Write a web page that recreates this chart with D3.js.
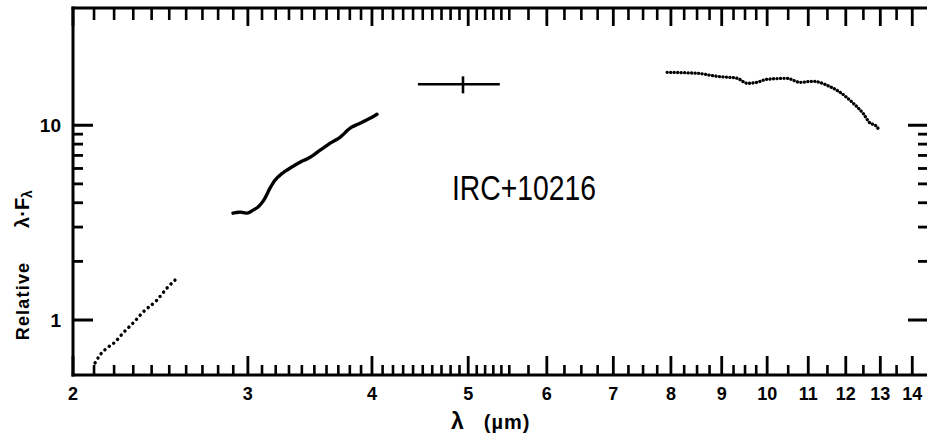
<!DOCTYPE html>
<html>
<head>
<meta charset="utf-8">
<script src="https://cdn.jsdelivr.net/npm/d3@7"></script>
<style>
  html, body { margin: 0; padding: 0; background: #fff; }
  svg { display: block; }
  text { font-family: "Liberation Sans", Arial, sans-serif; fill: #000; }
</style>
</head>
<body>
<svg id="chart" width="927" height="437"></svg>
<script>
// ---- data ----
const seg1X = [2.105, 2.129, 2.164, 2.205, 2.246, 2.299, 2.353, 2.430, 2.487, 2.534];
const seg1Y = [0.602, 0.661, 0.718, 0.771, 0.858, 0.965, 1.099, 1.266, 1.459, 1.604];

const seg2X = [2.898, 2.946, 2.994, 3.036, 3.085, 3.121, 3.158, 3.195, 3.232, 3.307, 3.386, 3.466, 3.547, 3.630, 3.715, 3.802, 3.891, 3.982, 4.047];
const seg2Y = [3.537, 3.580, 3.537, 3.665, 3.888, 4.223, 4.753, 5.223, 5.541, 6.017, 6.460, 6.855, 7.443, 8.084, 8.679, 9.652, 10.24, 10.86, 11.39];

const seg4X = [7.93, 8.50, 8.90, 9.33, 9.55, 9.77, 10.0, 10.47, 10.79, 11.13, 11.49, 11.84, 12.21, 12.49, 12.70, 12.85, 12.97];
const seg4Y = [18.70, 18.48, 17.83, 17.42, 16.42, 16.61, 17.22, 17.42, 16.61, 16.81, 16.04, 14.77, 12.97, 11.52, 10.24, 10.0, 9.43];

// photometric point with error bars
const photX = [4.94];
const photY = [16.23];
const photXLo = [4.45];
const photXHi = [5.38];
const photYLo = [14.59];
const photYHi = [17.83];

const xMajor = [2, 3, 4, 5, 6, 7, 8, 9, 10, 11, 12, 13, 14];
const xMinor = [2.1, 2.2, 2.3, 2.4, 2.5, 2.6, 2.7, 2.8, 2.9,
                3.1, 3.2, 3.3, 3.4, 3.5, 3.6, 3.7, 3.8, 3.9,
                4.1, 4.2, 4.3, 4.4, 4.5, 4.6, 4.7, 4.8, 4.9,
                5.1, 5.2, 5.3, 5.4, 5.5, 5.75,
                6.25, 6.5, 6.75, 7.25, 7.5, 7.75, 8.25, 8.5, 8.75,
                9.25, 9.5, 9.75, 10.5, 11.5, 12.5, 13.5];
const yMajor = [1, 10];
const yMinor = [2, 3, 4, 5, 6, 7, 8, 9];

const label = "IRC+10216";

// ---- layout ----
const svg = d3.select("#chart");
const L = 73, R = 928, T = 8, B = 375;

const x = d3.scaleLog().domain([2, 14.52]).range([L, R]);
const y = d3.scaleLog().domain([0.522, 40]).range([B, T]);

// ---- frame ----
svg.append("rect").attr("x", L - 1.5).attr("y", T - 1.5).attr("width", R - L + 3).attr("height", 3).attr("fill", "#000");
svg.append("rect").attr("x", L - 1.5).attr("y", B - 1.5).attr("width", R - L + 3).attr("height", 3).attr("fill", "#000");
svg.append("rect").attr("x", L - 1.5).attr("y", T - 1.5).attr("width", 3).attr("height", B - T + 3).attr("fill", "#000");

// ---- ticks as filled rects placed by the scales ----
function xTicks(vals, y0, len, w) {
  svg.append("g").selectAll("rect").data(vals).join("rect")
    .attr("x", d => x(d) - w / 2).attr("width", w)
    .attr("y", len < 0 ? y0 + len : y0).attr("height", Math.abs(len))
    .attr("fill", "#000");
}
function yTicks(vals, x0, len, w) {
  svg.append("g").selectAll("rect").data(vals).join("rect")
    .attr("y", d => y(d) - w / 2).attr("height", w)
    .attr("x", len < 0 ? x0 + len : x0).attr("width", Math.abs(len))
    .attr("fill", "#000");
}
xTicks(xMinor, B, -10, 2.6);
xTicks(xMajor, B, -19, 2.8);
xTicks(xMinor, T, 12, 2.6);
xTicks(xMajor, T, 18, 2.8);
yTicks(yMinor, L, 10, 2.8);
yTicks(yMajor, L, 20, 3);
yTicks(yMinor, R, -10, 2.8);
yTicks(yMajor, R, -20, 3);

// tick labels
svg.append("g").selectAll("text").data(xMajor).join("text")
  .attr("x", d => x(d)).attr("y", 400)
  .attr("text-anchor", "middle").attr("font-size", 18).attr("font-weight", "bold")
  .text(d3.format("d"));
svg.append("g").selectAll("text").data(yMajor).join("text")
  .attr("x", 61).attr("y", d => y(d) + 7)
  .attr("text-anchor", "end").attr("font-size", 19).attr("font-weight", "bold")
  .text(d3.format("d"));

// ---- data marks ----
const line = d3.line().x(d => x(d[0])).y(d => y(d[1])).curve(d3.curveMonotoneX);

svg.append("path")
  .datum(d3.zip(seg1X, seg1Y))
  .attr("d", line)
  .attr("fill", "none").attr("stroke", "#000")
  .attr("stroke-width", 3.4).attr("stroke-linecap", "round")
  .attr("stroke-dasharray", "0.1 5.4");

svg.append("path")
  .datum(d3.zip(seg2X, seg2Y))
  .attr("d", line)
  .attr("fill", "none").attr("stroke", "#000")
  .attr("stroke-width", 3.4).attr("stroke-linecap", "round")
  .attr("stroke-dasharray", "2.5 1");

svg.append("path")
  .datum(d3.zip(seg4X, seg4Y))
  .attr("d", line)
  .attr("fill", "none").attr("stroke", "#000")
  .attr("stroke-width", 3.3).attr("stroke-linecap", "round")
  .attr("stroke-dasharray", "0.1 3.4");

const phot = photX.map((v, i) => ({x: v, y: photY[i], xl: photXLo[i], xh: photXHi[i], yl: photYLo[i], yh: photYHi[i]}));
const pg = svg.append("g");
pg.selectAll("line.h").data(phot).join("line").attr("class", "h")
  .attr("x1", d => x(d.xl)).attr("x2", d => x(d.xh))
  .attr("y1", d => y(d.y)).attr("y2", d => y(d.y))
  .attr("stroke", "#000").attr("stroke-width", 2.6);
pg.selectAll("line.v").data(phot).join("line").attr("class", "v")
  .attr("x1", d => x(d.x)).attr("x2", d => x(d.x))
  .attr("y1", d => y(d.yl)).attr("y2", d => y(d.yh))
  .attr("stroke", "#000").attr("stroke-width", 2.6);

// ---- text ----
svg.append("text")
  .attr("x", 452).attr("y", 200)
  .attr("font-size", 35)
  .attr("textLength", 144).attr("lengthAdjust", "spacingAndGlyphs")
  .text(label);

const xt = svg.append("text").attr("x", 451).attr("y", 429)
  .attr("font-weight", "bold");
xt.append("tspan").attr("font-size", 23).text("λ");
xt.append("tspan").attr("font-size", 20).attr("dx", 20).attr("letter-spacing", 1).text("(µm)");

svg.append("text")
  .attr("transform", "translate(29,301) rotate(-90)")
  .attr("text-anchor", "middle").attr("font-size", 18).attr("font-weight", "bold")
  .attr("letter-spacing", 1.2)
  .text("Relative");
const yt = svg.append("text")
  .attr("transform", "translate(29,209) rotate(-90)")
  .attr("text-anchor", "middle").attr("font-size", 20).attr("font-weight", "bold");
yt.append("tspan").text("λ·F");
yt.append("tspan").attr("font-size", 14).attr("dy", 3).text("λ");
</script>
</body>
</html>
